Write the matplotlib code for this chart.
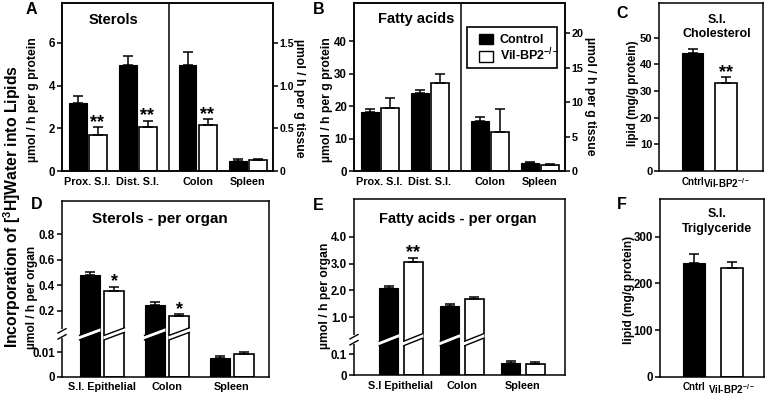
import numpy as np
import matplotlib
matplotlib.use('Agg')
import matplotlib.pyplot as plt
from matplotlib import transforms
from matplotlib.patches import Rectangle, Polygon
from matplotlib.lines import Line2D
from matplotlib.ticker import FixedLocator, FixedFormatter, NullLocator

plt.rcParams.update({
    'font.family': ['Liberation Sans', 'DejaVu Sans'],
    'font.weight': 'bold',
    'axes.labelweight': 'bold',
    'mathtext.fontset': 'custom',
    'mathtext.rm': 'Liberation Sans:bold',
    'mathtext.it': 'Liberation Sans:bold',
    'mathtext.bf': 'Liberation Sans:bold',
    'mathtext.sf': 'Liberation Sans:bold',
    'axes.linewidth': 1.1,
    'xtick.major.width': 1.1,
    'ytick.major.width': 1.1,
    'xtick.labelsize': 7.8,
    'ytick.labelsize': 8.3,
})

# ---------------- data ----------------
series_names = ['Control', 'Vil-BP2$^{-/-}$']
tissue_groups = ['Prox. S.I.', 'Dist. S.I.', 'Colon', 'Spleen']

# A: sterols; Prox/Dist in umol/h per g protein, Colon/Spleen in umol/h per g tissue
A_prot_ctrl = [3.20, 4.97]
A_prot_ctrl_err = [0.32, 0.44]
A_prot_vil = [1.69, 2.08]
A_prot_vil_err = [0.36, 0.28]
A_tis_ctrl = [1.24, 0.12]
A_tis_ctrl_err = [0.15, 0.017]
A_tis_vil = [0.54, 0.13]
A_tis_vil_err = [0.065, 0.015]
A_sig = ['**', '**', '**', '']

# B: fatty acids
B_prot_ctrl = [18.3, 24.1]
B_prot_ctrl_err = [0.7, 0.8]
B_prot_vil = [19.3, 27.0]
B_prot_vil_err = [3.1, 2.8]
B_tis_ctrl = [7.26, 1.11]
B_tis_ctrl_err = [0.54, 0.15]
B_tis_vil = [5.70, 0.87]
B_tis_vil_err = [3.26, 0.15]

# C: S.I. cholesterol (mg/g protein)
lipid_groups = ['Cntrl', 'Vil-BP2$^{-/-}$']
C_vals = [44.1, 33.1]
C_err = [1.65, 2.0]
C_sig = ['', '**']

# D: sterols per organ
organ_groups_D = ['S.I. Epithelial', 'Colon', 'Spleen']
D_ctrl = [0.478, 0.244, 0.0075]
D_ctrl_err = [0.028, 0.027, 0.0010]
D_vil = [0.357, 0.158, 0.0093]
D_vil_err = [0.032, 0.013, 0.0008]
D_sig = ['*', '*', '']

# E: fatty acids per organ
organ_groups_E = ['S.I Epithelial', 'Colon', 'Spleen']
E_ctrl = [2.10, 1.42, 0.056]
E_ctrl_err = [0.08, 0.08, 0.009]
E_vil = [3.04, 1.67, 0.052]
E_vil_err = [0.18, 0.07, 0.010]
E_sig = ['**', '', '']

# F: S.I. triglyceride
F_vals = [244.0, 233.6]
F_err = [18.0, 12.4]

# ---------------- layout helpers ----------------
W, H = 766, 395
fig = plt.figure(figsize=(W / 100, H / 100), dpi=100)


def rect(l, t, r, b):
    return [l / W, 1 - b / H, (r - l) / W, (b - t) / H]


def fx(px):
    return px / W


def fy(py):
    return 1 - py / H


def style(ax):
    ax.tick_params(axis='y', direction='out', length=3.5, pad=1.5, width=1.1)
    ax.tick_params(axis='x', length=0, pad=4)
    for s in ax.spines.values():
        s.set_linewidth(1.1)


def bars(ax, x, vals, errs, dark, w):
    x = np.asarray(x, float)
    vals = np.asarray(vals, float)
    errs = np.asarray(errs, float)
    if dark:
        ax.bar(x, vals, w, color='black', edgecolor='black', linewidth=0.8, zorder=2)
    else:
        ax.bar(x, vals, w, color='white', edgecolor='black', linewidth=1.2, zorder=2)
    ax.errorbar(x, vals, yerr=[np.zeros_like(errs), errs], fmt='none',
                ecolor='black', elinewidth=1.1, capsize=3.5, capthick=1.1, zorder=3)


def stars(ax, x, tops, marks):
    for xi, t, m in zip(x, tops, marks):
        if m:
            ax.annotate(m, xy=(xi, t), xytext=(0, -2.8), textcoords='offset points',
                        ha='center', va='bottom', fontsize=13, fontweight='bold')


# ---------------- Panel A ----------------
pos4 = np.array([0, 1, 2.2, 3.2])
off4, w4 = 0.2, 0.36
axA = fig.add_axes(rect(62, 3, 273, 171))
axA2 = axA.twinx()
for ax in (axA, axA2):
    style(ax)
axA.set_xlim(-0.51, 3.71)
axA.set_ylim(0, 7.87)
axA2.set_ylim(0, 7.87 / 4)
bars(axA, pos4[:2] - off4, A_prot_ctrl, A_prot_ctrl_err, True, w4)
bars(axA, pos4[:2] + off4, A_prot_vil, A_prot_vil_err, False, w4)
bars(axA2, pos4[2:] - off4, A_tis_ctrl, A_tis_ctrl_err, True, w4)
bars(axA2, pos4[2:] + off4, A_tis_vil, A_tis_vil_err, False, w4)
stars(axA, pos4[:2] + off4, np.add(A_prot_vil, A_prot_vil_err), A_sig[:2])
stars(axA2, pos4[2:] + off4, np.add(A_tis_vil, A_tis_vil_err), A_sig[2:])
axA.axvline(1.63, color='black', lw=1.1)
axA.set_yticks([0, 2, 4, 6])
axA2.set_yticks([0, 0.5, 1.0, 1.5])
axA2.set_yticklabels(['0', '0.5', '1.0', '1.5'])
axA2.tick_params(axis='y', labelsize=7.6, pad=1.2)
axA.set_xticks(pos4)
axA.set_xticklabels(tissue_groups)

# ---------------- Panel B ----------------
axB = fig.add_axes(rect(354, 3, 565, 171))
axB2 = axB.twinx()
for ax in (axB, axB2):
    style(ax)
axB.set_xlim(-0.51, 3.71)
axB.set_ylim(0, 51.7)
axB2.set_ylim(0, 24.4)
bars(axB, pos4[:2] - off4, B_prot_ctrl, B_prot_ctrl_err, True, w4)
bars(axB, pos4[:2] + off4, B_prot_vil, B_prot_vil_err, False, w4)
bars(axB2, pos4[2:] - off4, B_tis_ctrl, B_tis_ctrl_err, True, w4)
bars(axB2, pos4[2:] + off4, B_tis_vil, B_tis_vil_err, False, w4)
axB.axvline(1.63, color='black', lw=1.1)
axB.set_yticks([0, 10, 20, 30, 40])
axB2.set_yticks([0, 5, 10, 15, 20])
axB2.tick_params(axis='y', labelsize=7.8, pad=1.2)
axB.set_xticks(pos4)
axB.set_xticklabels(tissue_groups)

# legend (frame drawn separately)
hC = Rectangle((0, 0), 1, 1, facecolor='black', edgecolor='black', lw=1.0)
hV = Rectangle((0, 0), 1, 1, facecolor='white', edgecolor='black', lw=1.0)
leg = fig.legend([hC, hV], series_names, loc='upper left',
                 bbox_to_anchor=(fx(479), fy(33.5)), frameon=False, fontsize=9,
                 borderpad=0, borderaxespad=0, handlelength=1.15, handleheight=0.95,
                 handletextpad=0.5, labelspacing=0.05)
fig.add_artist(Rectangle((fx(466.7), fy(68.3)), fx(557.3) - fx(466.7), fy(26.7) - fy(68.3),
                         transform=fig.transFigure, fill=False, edgecolor='black', lw=1.2))

# ---------------- Panel C ----------------
axC = fig.add_axes(rect(659, 3, 763, 171))
style(axC)
axC.set_xlim(-1.0, 2.1)
axC.set_ylim(0, 63)
bars(axC, [0], C_vals[:1], C_err[:1], True, 0.645)
bars(axC, [1], C_vals[1:], C_err[1:], False, 0.645)
stars(axC, [0, 1], np.add(C_vals, C_err), C_sig)
axC.set_yticks([0, 10, 20, 30, 40, 50])
axC.tick_params(axis='y', labelsize=8.0, pad=1.2)
axC.set_xticks([0, 1])
axC.set_xticklabels(lipid_groups, fontsize=7.0)


# ---------------- broken-axis helpers ----------------
def break_scale(ax, a, b, c, top):
    y0 = c / (a - b)
    p0 = a * y0

    def fwd(y):
        y = np.asarray(y, float)
        return np.where(y <= y0, a * y, c + b * y)

    def inv(p):
        p = np.asarray(p, float)
        return np.where(p <= p0, p / a, (p - c) / b)

    ax.set_yscale('function', functions=(fwd, inv))
    ax.set_ylim(0, top)
    frac = (fwd(y0) - fwd(0)) / (fwd(top) - fwd(0))
    return float(frac)


def bar_break(ax, xs, w, yc, axh_px):
    tr = transforms.blended_transform_factory(ax.transData, ax.transAxes)
    rise = 7.5 / axh_px
    t = 4.5 / axh_px
    ext = 0.012
    for x in xs:
        xl, xr = x - w / 2, x + w / 2
        xl2, xr2 = xl - ext, xr + ext
        sl = rise / (xr - xl)

        def yy(xv, base):
            return base + sl * (xv - x)
        poly = Polygon([(xl2, yy(xl2, yc - t / 2)), (xr2, yy(xr2, yc - t / 2)),
                        (xr2, yy(xr2, yc + t / 2)), (xl2, yy(xl2, yc + t / 2))],
                       closed=True, facecolor='white', edgecolor='none',
                       transform=tr, zorder=4)
        ax.add_patch(poly)
        for base in (yc - t / 2, yc + t / 2):
            ax.add_line(Line2D([xl, xr], [yy(xl, base), yy(xr, base)], color='black',
                               lw=1.0, transform=tr, zorder=5))


def spine_break(ax, yc, axw_px, axh_px):
    dx = 4.0 / axw_px
    gap = 9.0 / axh_px
    ax.add_patch(Rectangle((-dx, yc - gap / 2), 2 * dx, gap, transform=ax.transAxes,
                           facecolor='white', edgecolor='none', clip_on=False, zorder=6))
    for d in (-gap / 2 + 1.5 / axh_px, gap / 2 - 1.5 / axh_px):
        ax.add_line(Line2D([-dx, dx], [yc + d - 2.2 / axh_px, yc + d + 2.2 / axh_px],
                           color='black', lw=1.0, transform=ax.transAxes,
                           clip_on=False, zorder=7))


# ---------------- Panel D ----------------
pos3 = np.array([0, 1, 2])
axD = fig.add_axes(rect(62, 201, 269, 376.7))
style(axD)
axD.set_xlim(-0.615, 2.57)
fracD = break_scale(axD, 2433.0, 127.2, 40.6, 1.062)
offD, wD = 0.19, 0.31
bars(axD, pos3 - offD, D_ctrl, D_ctrl_err, True, wD)
bars(axD, pos3 + offD, D_vil, D_vil_err, False, wD)
stars(axD, pos3 + offD, np.add(D_vil, D_vil_err), D_sig)
axD.yaxis.set_major_locator(FixedLocator([0, 0.01, 0.2, 0.4, 0.6, 0.8]))
axD.yaxis.set_major_formatter(FixedFormatter(['0', '0.01', '0.2', '0.4', '0.6', '0.8']))
axD.yaxis.set_minor_locator(NullLocator())
axD.set_xticks(pos3)
axD.set_xticklabels(organ_groups_D)
bar_break(axD, np.concatenate([pos3[:2] - offD, pos3[:2] + offD]), wD, fracD, 175.7)
spine_break(axD, fracD, 207, 175.7)

# ---------------- Panel E ----------------
axE = fig.add_axes(rect(354, 199.3, 565, 375))
style(axE)
axE.set_xlim(-0.77, 2.69)
fracE = break_scale(axE, 210.0, 26.89, 30.77, 5.39)
offE, wE = 0.2, 0.31
bars(axE, pos3 - offE, E_ctrl, E_ctrl_err, True, wE)
bars(axE, pos3 + offE, E_vil, E_vil_err, False, wE)
stars(axE, pos3 + offE, np.add(E_vil, E_vil_err), E_sig)
axE.yaxis.set_major_locator(FixedLocator([0, 0.1, 1.0, 2.0, 3.0, 4.0]))
axE.yaxis.set_major_formatter(FixedFormatter(['0', '0.1', '1.0', '2.0', '3.0', '4.0']))
axE.yaxis.set_minor_locator(NullLocator())
axE.set_xticks(pos3)
axE.set_xticklabels(organ_groups_E)
bar_break(axE, np.concatenate([pos3[:2] - offE, pos3[:2] + offE]), wE, fracE, 175.7)
spine_break(axE, fracE, 211, 175.7)

# ---------------- Panel F ----------------
axF = fig.add_axes(rect(660, 199.3, 764, 376.7))
style(axF)
axF.set_xlim(-0.9, 1.86)
axF.set_ylim(0, 380)
bars(axF, [0], F_vals[:1], F_err[:1], True, 0.58)
bars(axF, [1], F_vals[1:], F_err[1:], False, 0.58)
axF.set_yticks([0, 100, 200, 300])
axF.set_xticks([0, 1])
axF.set_xticklabels(lipid_groups, fontsize=7.0)


# ---------------- texts ----------------
def ftext(px, py, s, **kw):
    kw.setdefault('ha', 'center')
    kw.setdefault('va', 'center')
    kw.setdefault('fontweight', 'bold')
    fig.text(fx(px), fy(py), s, **kw)


# panel letters
for L, (px, py) in zip('ABCDEF', [(31.5, 9.5), (319, 9.5), (622, 13.3),
                                  (36.7, 204.7), (318.7, 205), (621.7, 204.3)]):
    ftext(px, py, L, fontsize=11.5)

# panel titles
ftext(113, 19.5, 'Sterols', fontsize=10.5)
ftext(415.7, 19.5, 'Fatty acids', fontsize=10.5)
ftext(160, 219, 'Sterols - per organ', fontsize=11)
ftext(458, 219, 'Fatty acids - per organ', fontsize=10.5)
ftext(716.7, 20, 'S.I.', fontsize=9)
ftext(716.7, 34, 'Cholesterol', fontsize=9)
ftext(716.7, 214, 'S.I.', fontsize=9)
ftext(716.7, 229, 'Triglyceride', fontsize=9)

# axis labels
ftext(33, 100, 'µmol / h per g protein', fontsize=8.8, rotation=90)
ftext(299, 98, 'µmol / h per g tissue', fontsize=8.8, rotation=270)
ftext(326.7, 100, 'µmol / h per g protein', fontsize=8.8, rotation=90)
ftext(590, 96, 'µmol / h per g tissue', fontsize=8.8, rotation=270)
ftext(633, 93, 'lipid (mg/g protein)', fontsize=8.4, rotation=90)
ftext(32, 297, 'µmol / h per organ', fontsize=8.6, rotation=90)
ftext(325, 296, 'µmol / h per organ', fontsize=8.8, rotation=90)
ftext(629, 290, 'lipid (mg/g protein)', fontsize=8.6, rotation=90)
ftext(12.5, 207, 'Incorporation of [$^{3}$H]Water into Lipids', fontsize=11.3, rotation=90)

fig.savefig('out.png', dpi=100)
